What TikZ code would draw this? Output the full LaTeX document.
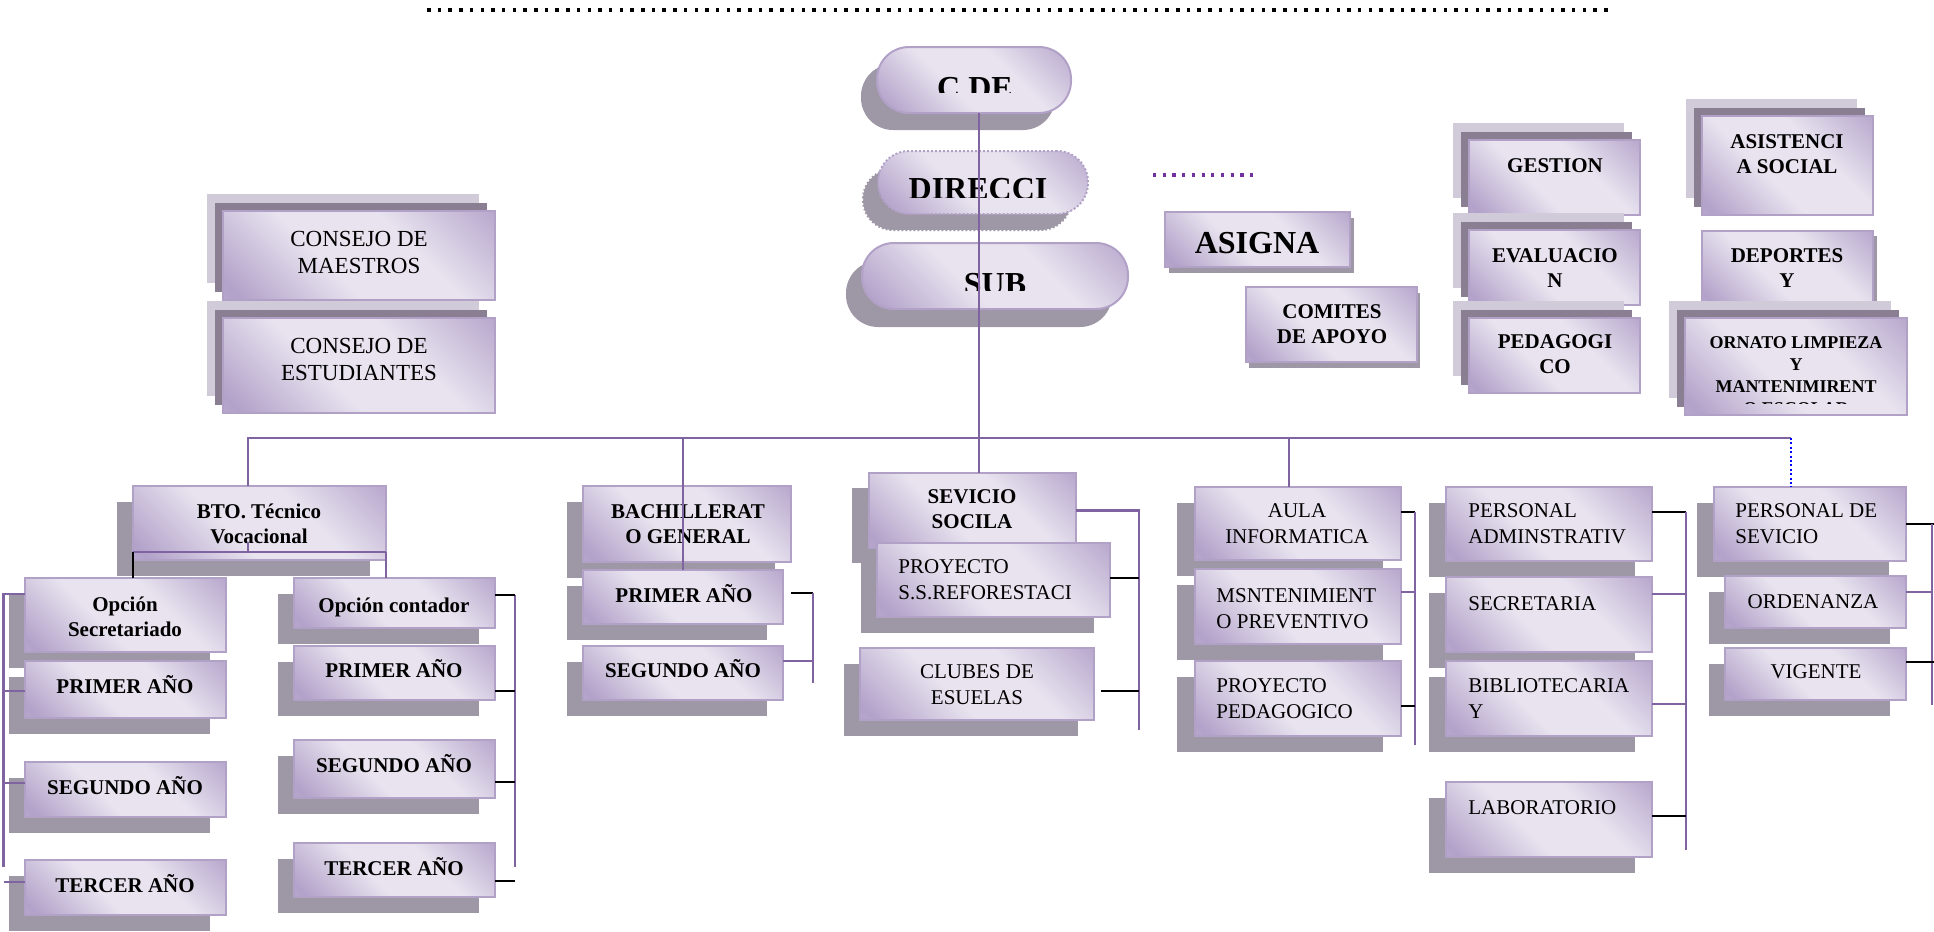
\documentclass[tikz,border=0pt]{standalone}
\usepackage{fontspec}
\setmainfont{Liberation Serif}
\usetikzlibrary{calc}
\definecolor{cpurple}{HTML}{8064A2}
\definecolor{bord}{HTML}{B2A1C7}
\definecolor{gdark}{RGB}{178,161,201}
\definecolor{gmid}{RGB}{205,195,220}
\definecolor{glight}{RGB}{232,227,239}
\definecolor{shd}{RGB}{158,151,166}
\definecolor{lyrD}{RGB}{137,126,146}
\definecolor{lyrL}{RGB}{208,202,217}
\definecolor{dotp}{RGB}{112,48,160}
\pgfdeclareverticalshading{boxgrad}{100bp}{color(0bp)=(gmid); color(18bp)=(gdark); color(42bp)=(glight); color(62bp)=(glight); color(88bp)=(gdark); color(100bp)=(gdark)}
\tikzset{
  front/.style={shade, shading=boxgrad, shading angle=-45, draw=bord, line width=1pt, inner sep=0pt, outer sep=0pt},
  conn/.style={draw=cpurple, line width=1.1pt},
  blk/.style={draw=black, line width=1pt},
  tb/.style={font=\bfseries\fontsize{10.5}{12.5}\selectfont, align=center, anchor=north, inner sep=0pt, yshift=10.5pt},
  tn/.style={font=\fontsize{10.5}{12.8}\selectfont, align=center, anchor=north, inner sep=0pt, yshift=10.5pt},
  tl/.style={font=\fontsize{10.5}{12.8}\selectfont, align=left, anchor=north west, inner sep=0pt, yshift=10.5pt},
  tc/.style={font=\fontsize{11.5}{13.5}\selectfont, align=center, anchor=north, inner sep=0pt, yshift=11.5pt},
  tbig/.style={font=\bfseries\fontsize{16}{19}\selectfont, align=center, anchor=north, inner sep=0pt, yshift=16pt},
  ts/.style={font=\bfseries\fontsize{9}{11}\selectfont, align=center, anchor=north, inner sep=0pt, yshift=9pt},
}
% box with one offset shadow: name, x1,y1,x2,y2, shadow offset
\newcommand\mkSbox[6]{%
  \fill[shd] ($(#2,#3)+(#6)$) rectangle ($(#4,#5)+(#6)$);
  \node[front, minimum width={(#4-#2)*0.5pt}, minimum height={(#5-#3)*0.5pt}] (#1) at ({(#2+#4)/2},{(#3+#5)/2}) {};
}
% box with two stacked layers behind
\newcommand\mkLbox[5]{%
  \fill[lyrL] ($(#2,#3)+(-16,-17)$) rectangle ($(#4,#5)+(-16,-17)$);
  \fill[lyrD] ($(#2,#3)+(-8,-8)$) rectangle ($(#4,#5)+(-8,-8)$);
  \node[front, minimum width={(#4-#2)*0.5pt}, minimum height={(#5-#3)*0.5pt}] (#1) at ({(#2+#4)/2},{(#3+#5)/2}) {};
}
% text: name, style, x, baseline y, text
\newcommand\mkTxt[5]{%
  \node[#2] (#1) at (#3,#4) {\rule{0pt}{1em}#5};
}
\begin{document}
\begin{tikzpicture}[x=0.5pt,y=-0.5pt]
\useasboundingbox (0,0) rectangle (1934,932);

% top dotted rule
\draw[black, line width=1.75pt, dash pattern=on 1.75pt off 3.6pt] (427,10) -- (1614,10);

% ---------- upper left councils
\mkLbox{cmae}{223}{211}{495}{300}
\mkLbox{cest}{223}{318}{495}{413}

% ---------- pills
\fill[shd, rounded corners=16pt] (861,64) rectangle (1055,130);
\node[front, rounded corners=16pt, minimum width=97pt, minimum height=33pt] (cde) at (974,80) {};
\fill[shd, rounded corners=15.5pt] (862,168) rectangle (1072,231);
\draw[white, line width=1pt, densely dotted, rounded corners=15.5pt] (862,168) rectangle (1072,231);
\node[front, densely dotted, rounded corners=15.5pt, minimum width=105pt, minimum height=31.5pt] (dir) at (983,182.5) {};
\fill[shd, rounded corners=16pt] (846,261) rectangle (1112,327);
\node[front, rounded corners=16pt, minimum width=133pt, minimum height=33pt] (sub) at (995,276) {};

% ---------- upper middle / right
\draw[dotp, line width=1.6pt, dash pattern=on 1.6pt off 3.25pt] (1153,175) -- (1257,175);
\mkSbox{asig}{1165}{212}{1350}{267}{4,6}
\mkSbox{comi}{1246}{287}{1417}{362}{3,6}
\mkLbox{gest}{1469}{140}{1640}{215}
\mkLbox{eval}{1469}{230}{1640}{305}
\mkLbox{peda}{1469}{318}{1640}{393}
\mkLbox{asis}{1702}{116}{1873}{215}
\mkSbox{depo}{1702}{231}{1873}{305}{4,5}
\mkLbox{orna}{1685}{318}{1907}{415}

% ---------- lower boxes
\mkSbox{bto}{133}{486}{386}{560}{-16,16}
\mkSbox{opsec}{25}{578}{226}{652}{-16,16}
\mkSbox{pril}{25}{661}{226}{718}{-16,16}
\mkSbox{segl}{25}{762}{226}{817}{-16,16}
\mkSbox{terl}{25}{860}{226}{915}{-16,16}
\mkSbox{opcon}{294}{578}{495}{628}{-16,16}
\mkSbox{prir}{294}{646}{495}{700}{-16,16}
\mkSbox{segr}{294}{740}{495}{798}{-16,16}
\mkSbox{terr}{294}{843}{495}{897}{-16,16}
\mkSbox{bach}{583}{486}{791}{562}{-16,16}
\mkSbox{prim}{583}{570}{783}{624}{-16,16}
\mkSbox{segm}{583}{646}{783}{700}{-16,16}
\mkSbox{sev}{869}{473}{1076}{548}{-17,15}
\mkSbox{proy}{877}{543}{1110}{617}{-16,16}
\mkSbox{club}{860}{648}{1094}{720}{-16,16}
\mkSbox{aula}{1195}{487}{1401}{560}{-18,16}
\mkSbox{mant}{1195}{569}{1401}{644}{-18,16}
\mkSbox{ppeda}{1195}{661}{1401}{736}{-18,16}
\mkSbox{padm}{1446}{487}{1652}{561}{-17,16}
\mkSbox{secr}{1446}{577}{1652}{652}{-17,16}
\mkSbox{bibl}{1446}{661}{1652}{736}{-17,16}
\mkSbox{lab}{1446}{782}{1652}{857}{-17,16}
\mkSbox{psev}{1714}{487}{1906}{561}{-17,16}
\mkSbox{orde}{1725}{576}{1906}{628}{-16,16}
\mkSbox{vige}{1725}{648}{1906}{700}{-16,16}

% ---------- texts
\mkTxt{cmaet}{tc}{359}{246}{CONSEJO DE\\MAESTROS}
\mkTxt{cestt}{tc}{359}{353}{CONSEJO DE\\ESTUDIANTES}
\begin{scope}
  \clip (860,40) rectangle (1090,92);
  \mkTxt{cdet}{tbig}{975}{98}{C DE}
\end{scope}
\begin{scope}
  \clip (860,140) rectangle (1095,197);
  \mkTxt{dirt}{tbig}{978}{199}{DIRECCI}
\end{scope}
\begin{scope}
  \clip (850,240) rectangle (1130,290);
  \mkTxt{subt}{tbig}{995}{294}{SUB}
\end{scope}
\mkTxt{asigt}{tbig}{1257}{253}{ASIGNA}
\mkTxt{comit}{tb}{1332}{318}{COMITES\\DE APOYO}
\mkTxt{gestt}{tb}{1555}{172}{GESTION}
\mkTxt{evalt}{tb}{1555}{262}{EVALUACIO\\N}
\mkTxt{pedat}{tb}{1555}{348}{PEDAGOGI\\CO}
\mkTxt{asist}{tb}{1787}{148}{ASISTENCI\\A SOCIAL}
\mkTxt{depot}{tb}{1787}{262}{DEPORTES\\Y}
\begin{scope}
  \clip (1685,318) rectangle (1907,403);
  \mkTxt{ornat}{ts}{1796}{348}{ORNATO LIMPIEZA\\Y\\MANTENIMIRENT\\O ESCOLAR}
\end{scope}

\mkTxt{btot}{tb}{259}{518}{BTO. Técnico\\Vocacional}
\mkTxt{opsect}{tb}{125}{611}{Opción\\Secretariado}
\mkTxt{prilt}{tb}{125}{693}{PRIMER AÑO}
\mkTxt{seglt}{tb}{125}{794}{SEGUNDO AÑO}
\mkTxt{terlt}{tb}{125}{892}{TERCER AÑO}
\mkTxt{opcont}{tb}{394}{612}{Opción contador}
\mkTxt{prirt}{tb}{394}{677}{PRIMER AÑO}
\mkTxt{segrt}{tb}{394}{772}{SEGUNDO AÑO}
\mkTxt{terrt}{tb}{394}{875}{TERCER AÑO}
\mkTxt{bacht}{tb}{688}{518}{BACHILLERAT\\O GENERAL}
\mkTxt{primt}{tb}{684}{602}{PRIMER AÑO}
\mkTxt{segmt}{tb}{683}{677}{SEGUNDO AÑO}
\mkTxt{sevt}{tb}{972}{503}{SEVICIO\\SOCILA}
\mkTxt{proyt}{tl}{898}{573}{PROYECTO\\S.S.REFORESTACI}
\mkTxt{clubt}{tn}{977}{678}{CLUBES DE\\ESUELAS}
\mkTxt{aulat}{tn}{1297}{517}{AULA\\INFORMATICA}
\mkTxt{mantt}{tl}{1216}{602}{MSNTENIMIENT\\O PREVENTIVO}
\mkTxt{ppedat}{tl}{1216}{692}{PROYECTO\\PEDAGOGICO}
\mkTxt{padmt}{tl}{1468}{517}{PERSONAL\\ADMINSTRATIV}
\mkTxt{secrt}{tl}{1468}{610}{SECRETARIA}
\mkTxt{biblt}{tl}{1468}{692}{BIBLIOTECARIA\\Y}
\mkTxt{labt}{tl}{1468}{814}{LABORATORIO}
\mkTxt{psevt}{tl}{1735}{517}{PERSONAL DE\\SEVICIO}
\mkTxt{ordet}{tn}{1813}{608}{ORDENANZA}
\mkTxt{viget}{tn}{1816}{678}{VIGENTE}

% ---------- connectors
\coordinate (busR) at (1791,438);
\draw[conn] ([xshift=2.5pt]cde.south) -- ([xshift=3.25pt]sev.north);
\draw[conn] ([xshift=-5.75pt]bto.north) |- (busR);
\draw[conn] (prim.north) -- (prim.north |- busR);
\draw[conn] ([xshift=-4.5pt]aula.north) -- ([xshift=-4.5pt]aula.north |- busR);
\draw[blue, line width=0.9pt, dash pattern=on 1pt off 1.2pt] (busR) -- (busR |- psev.north);

% BTO split
\draw[conn] ([yshift=4pt]bto.south west) -- ([yshift=4pt]bto.south east);
\draw[conn] ([yshift=4pt]bto.south east) -- (bto.south east |- opcon.north);
\draw[blk] ([yshift=4pt]bto.south west) -- (bto.south west |- opsec.north);
\draw[conn] ([xshift=-5.75pt,yshift=4pt]bto.south) -- ++(0,-10);

% left bracket
\draw[conn] ([yshift=-8pt]opsec.north west) -- ++(-21.5,0) -- ++(0,273);
\draw[conn] ([yshift=-0.75pt]pril.west) -- ++(-21.5,0);
\draw[conn] ([yshift=3.25pt]segl.west) -- ++(-21.5,0);
\draw[conn] ([yshift=2.75pt]terl.west) -- ++(-21.5,0);
% right bracket
\draw[conn] ([yshift=-8.5pt,xshift=10pt]opcon.north east) -- ++(0,272);
\draw[blk] ([yshift=-8.5pt]opcon.north east) -- ++(20,0);
\draw[blk] ([yshift=-9pt]prir.east) -- ++(20,0);
\draw[blk] ([yshift=-6.5pt]segr.east) -- ++(20,0);
\draw[blk] ([yshift=-5.5pt]terr.east) -- ++(20,0);

% bachillerato bracket
\draw[blk] ([yshift=-15.5pt]bach.south east) -- ++(22,0);
\draw[conn] ([yshift=-15.5pt,xshift=11pt]bach.south east) -- ++(0,90);
\draw[conn] ([yshift=6pt]segm.east) -- ++(30,0);

% servicio bracket
\draw[conn] (sev.east) -- ++(63,0) -- ++(0,219);
\draw[blk] ([yshift=1pt]proy.east) -- ++(29,0);
\draw[blk] ([xshift=3.5pt,yshift=-3.5pt]club.east) -- ++(38,0);

% aula bracket
\draw[blk] ([yshift=5.75pt]aula.east) -- ++(14,0);
\draw[conn] ([yshift=5.75pt,xshift=7pt]aula.east) -- ++(0,233);
\draw[conn] ([yshift=7.25pt]mant.east) -- ++(14,0);
\draw[blk] ([yshift=-3.75pt]ppeda.east) -- ++(14,0);

% personal administrativo bracket
\draw[blk] ([yshift=6pt]padm.east) -- ++(34,0);
\draw[conn] ([yshift=6pt,xshift=17pt]padm.east) -- ++(0,338);
\draw[conn] ([yshift=10.25pt]secr.east) -- ++(34,0);
\draw[conn] ([yshift=-2.75pt]bibl.east) -- ++(34,0);
\draw[blk] ([yshift=1.75pt]lab.east) -- ++(34,0);

% personal de servicio bracket
\draw[blk] (psev.east) -- ++(28,0);
\draw[conn] ([xshift=13pt]psev.east) -- ++(0,181);
\draw[conn] ([yshift=5pt]orde.east) -- ++(26,0);
\draw[blk] ([yshift=6pt]vige.east) -- ++(28,0);
\end{tikzpicture}
\end{document}
